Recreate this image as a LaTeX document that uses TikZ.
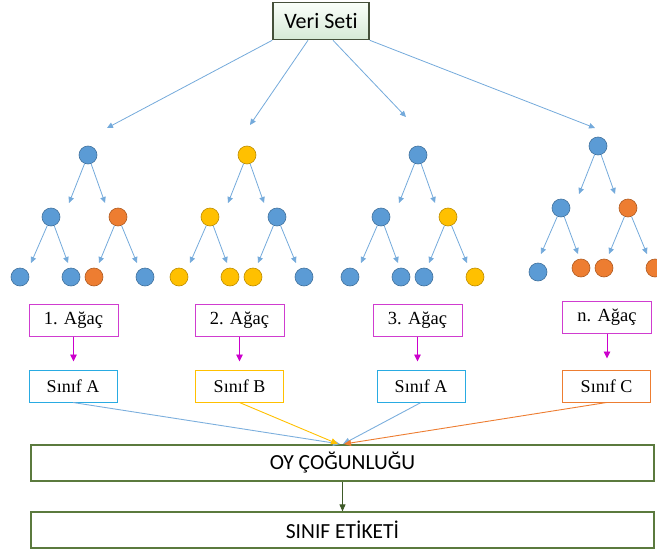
\documentclass[tikz,border=0pt]{standalone}
\usepackage{fontspec}
\setmainfont{Liberation Serif}
\newfontfamily\calfont[Ligatures=NoCommon]{Carlito}
\usetikzlibrary{arrows.meta,shapes.geometric}
\definecolor{cblue}{HTML}{5B9BD5}
\definecolor{cblueD}{HTML}{41719C}
\definecolor{corange}{HTML}{ED7D31}
\definecolor{corangeD}{HTML}{AE5A21}
\definecolor{cgold}{HTML}{FFC000}
\definecolor{cgoldD}{HTML}{BC8C00}
\definecolor{cmag}{HTML}{D03CD0}
\definecolor{cmagA}{HTML}{CC00CC}
\definecolor{csky}{HTML}{29ABE2}
\definecolor{cgreen}{HTML}{5B7A3E}
\definecolor{cgreenD}{HTML}{3E5A28}
\definecolor{vsborder}{HTML}{45503A}
\tikzset{
  B/.style={fill=cblue,draw=cblueD},
  O/.style={fill=corange,draw=corangeD},
  Y/.style={fill=cgold,draw=cgoldD},
  ball/.style={circle,minimum size=18pt,inner sep=0pt,line width=0.6pt},
  tarrow/.style={draw=cblue!85,line width=0.8pt,-{Triangle[length=6pt,width=5.5pt]}},
  agac/.style={draw=cmag,line width=1pt,minimum width=89pt,minimum height=32pt,inner sep=0pt,font=\fontsize{18.5}{20}\selectfont},
  sinif/.style={line width=1pt,minimum width=88pt,minimum height=32pt,inner sep=0pt,font=\fontsize{18}{20}\selectfont},
  magarrow/.style={draw=cmagA,line width=0.9pt,-{Triangle[length=7pt,width=6.5pt]}},
  bigbox/.style={draw=cgreen,line width=1.2pt,minimum width=623pt,minimum height=36pt,inner sep=0pt,font=\calfont\fontsize{21.5}{23}\selectfont},
}
\def\LAA{(-68,122)}
% #1 name, #2 shift, #3 root, #4 left, #5 right, #6-#9 leaves
\newcommand\mytree[9]{%
  \begin{scope}[shift={#2}]
    \node[ball,#3] (#1r) at (0,0) {};
    \node[ball,#4] (#1a) at (-37,62) {};
    \node[ball,#5] (#1b) at (30,62) {};
    \node[ball,#6] (#1aa) at \LAA {};
    \node[ball,#7] (#1ab) at (-17,122) {};
    \node[ball,#8] (#1ba) at (6,122) {};
    \node[ball,#9] (#1bb) at (57,122) {};
    \coordinate (#1ta) at (-19,48);
    \coordinate (#1tb) at (17,48);
    \coordinate (#1taa) at (-57,108);
    \coordinate (#1tab) at (-20,108);
    \coordinate (#1tba) at (11,108);
    \coordinate (#1tbb) at (49,108);
    \draw[tarrow] (#1r) -- (#1ta);
    \draw[tarrow] (#1r) -- (#1tb);
    \draw[tarrow] (#1a) -- (#1taa);
    \draw[tarrow] (#1a) -- (#1tab);
    \draw[tarrow] (#1b) -- (#1tba);
    \draw[tarrow] (#1b) -- (#1tbb);
  \end{scope}}
\begin{document}
\begin{tikzpicture}[x=1pt,y=-1pt]
\useasboundingbox (0,0) rectangle (657,552);
% Veri Seti
\node[draw=vsborder,line width=1.6pt,top color=white!95!green!40,bottom color=green!30!gray!25,
  minimum width=96pt,minimum height=37pt,inner sep=0pt,font=\calfont\fontsize{22}{24}\selectfont] (vs) at (321,21) {Veri Seti};
\coordinate (v1) at (107,128);
\coordinate (v2) at (250,125);
\coordinate (v3) at (406,117);
\coordinate (v4) at (595,128);
\draw[tarrow] (vs.south west) -- (v1);
\draw[tarrow] ([xshift=-13pt]vs.south) -- (v2);
\draw[tarrow] ([xshift=12pt]vs.south) -- (v3);
\draw[tarrow] (vs.south east) -- (v4);
% trees
\mytree{t1}{(88,155)}{B}{B}{O}{B}{B}{O}{B}
\mytree{t2}{(247,155)}{Y}{Y}{B}{Y}{Y}{Y}{B}
\mytree{t3}{(418,155)}{B}{B}{Y}{B}{B}{B}{Y}
\def\LAA{(-60,126)}
\mytree{t4}{(598,146)}{B}{B}{O}{B}{O}{O}{O}
% Agac boxes
\node[agac] (a1) at (73.5,320) {1. Ağaç};
\node[agac] (a2) at (239.5,320) {2. Ağaç};
\node[agac] (a3) at (417.5,320) {3. Ağaç};
\node[agac] (a4) at (607,317) {n. Ağaç};
% Sinif boxes
\node[sinif,draw=csky] (s1) at (73,386) {Sınıf A};
\node[sinif,draw=cgold] (s2) at (239.5,386) {Sınıf B};
\node[sinif,draw=csky] (s3) at (421,386) {Sınıf A};
\node[sinif,draw=corange] (s4) at (606.5,386) {Sınıf C};
\foreach \i in {1,2,3,4}{
  \coordinate (m\i) at ([yshift=-25pt]a\i.south);
  \draw[magarrow] (a\i.south) -- (m\i);
}
% vote
\node[bigbox] (oy) at (342.5,463) {OY ÇOĞUNLUĞU};
\node[bigbox] (se) at (342.5,530) {SINIF ETİKETİ};
\coordinate (e1) at (340,444);
\coordinate (e2) at (338,444);
\coordinate (e3) at (343,444);
\coordinate (e4) at (344,444);
\draw[draw=cblue!80,line width=0.9pt,-{Triangle[length=7pt,width=6pt]}] (s1.south) -- (e1);
\draw[draw=cgold,line width=0.9pt,-{Triangle[length=7pt,width=6pt]}] (s2.south) -- (e2);
\draw[draw=cblue!80,line width=0.9pt,-{Triangle[length=7pt,width=6pt]}] (s3.south) -- (e3);
\draw[draw=corange,line width=0.9pt,-{Triangle[length=7pt,width=6pt]}] (s4.south) -- (e4);
\draw[draw=cgreenD,line width=0.9pt,-{Triangle[length=7pt,width=6pt]}] (oy.south) -- (se.north);
\end{tikzpicture}
\end{document}
